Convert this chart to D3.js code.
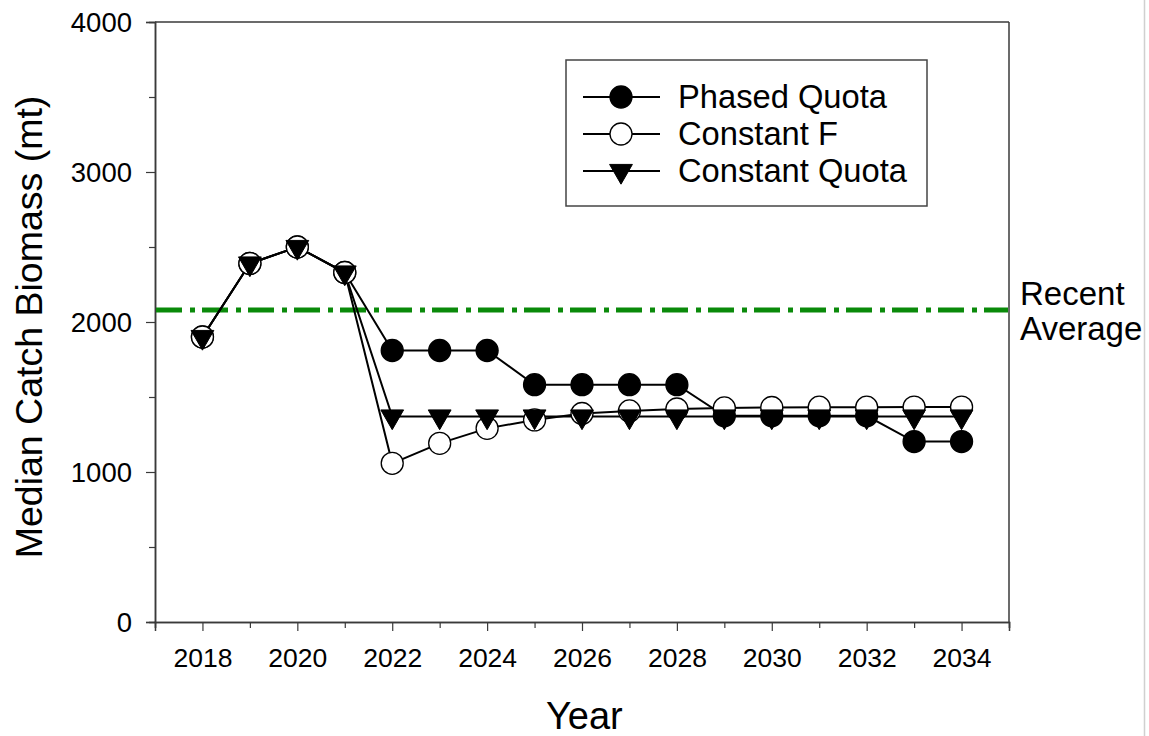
<!DOCTYPE html>
<html>
<head>
<meta charset="utf-8">
<script src="https://cdn.jsdelivr.net/npm/d3@7"></script>
<style>
  html, body { margin: 0; padding: 0; background: #fff; }
  svg { display: block; font-family: "Liberation Sans", Arial, sans-serif; }
</style>
</head>
<body>
<svg id="chart" width="1149" height="736"></svg>
<script>
// Projection years and median catch biomass (mt) for each harvest scenario
const years = [2018, 2019, 2020, 2021, 2022, 2023, 2024, 2025, 2026, 2027, 2028, 2029, 2030, 2031, 2032, 2033, 2034];
const phasedQuota   = [1900, 2390, 2500, 2330, 1810, 1810, 1810, 1582, 1582, 1582, 1582, 1375, 1375, 1375, 1375, 1203, 1203];
const constantF     = [1900, 2390, 2500, 2330, 1058, 1191, 1291, 1347, 1390, 1407, 1420, 1427, 1430, 1432, 1432, 1433, 1433];
const constantQuota = [1900, 2390, 2500, 2330, 1370, 1370, 1370, 1370, 1370, 1370, 1370, 1370, 1370, 1370, 1370, 1370, 1370];
const recentAverage = 2080;

const seriesNames = ["Phased Quota", "Constant F", "Constant Quota"];
const yTickValues = [0, 1000, 2000, 3000, 4000];
const xTickValues = [2018, 2020, 2022, 2024, 2026, 2028, 2030, 2032, 2034];

const svg = d3.select("#chart");
const plotLeft = 155, plotRight = 1009, plotTop = 22, plotBottom = 622;

const x = d3.scaleLinear().domain([2017, 2035]).range([plotLeft, plotRight]);
const y = d3.scaleLinear().domain([0, 4000]).range([plotBottom, plotTop]);

const axisColor = "#3a3a3a";

// frame: top and right edges
svg.append("line").attr("x1", plotLeft).attr("x2", plotRight).attr("y1", plotTop).attr("y2", plotTop)
  .attr("stroke", axisColor).attr("stroke-width", 1.5);
svg.append("line").attr("x1", plotRight).attr("x2", plotRight).attr("y1", plotTop).attr("y2", plotBottom)
  .attr("stroke", axisColor).attr("stroke-width", 1.5);

// y axis: major ticks with labels, minor ticks at half steps
const yAxis = svg.append("g").attr("transform", `translate(${plotLeft},0)`)
  .call(d3.axisLeft(y).tickValues(yTickValues).tickSize(9).tickPadding(14).tickFormat(d3.format("d")));
const yMinor = svg.append("g").attr("transform", `translate(${plotLeft},0)`)
  .call(d3.axisLeft(y).tickValues(d3.range(500, 4000, 1000)).tickSize(6).tickFormat(""));

// x axis: labelled even years, minor ticks every other year
const xAxis = svg.append("g").attr("transform", `translate(0,${plotBottom})`)
  .call(d3.axisBottom(x).tickValues(xTickValues).tickSize(9).tickPadding(17).tickFormat(d3.format("d")));
const xMinor = svg.append("g").attr("transform", `translate(0,${plotBottom})`)
  .call(d3.axisBottom(x).tickValues(d3.range(2017, 2036, 2)).tickSize(6).tickFormat(""));

[yAxis, yMinor, xAxis, xMinor].forEach(g => {
  g.select(".domain").attr("stroke", axisColor).attr("stroke-width", 1.5);
  g.selectAll(".tick line").attr("stroke", axisColor).attr("stroke-width", 1.2);
  g.selectAll(".tick text").attr("fill", "#000").attr("font-size", 26.5)
    .attr("font-family", "'Liberation Sans', Arial, sans-serif");
});
yAxis.selectAll(".tick text").attr("font-size", 27.5).attr("dy", "0.36em");

// axis titles
svg.append("text").attr("x", x(2026.05)).attr("y", 729).attr("text-anchor", "middle")
  .attr("font-size", 38).attr("fill", "#000").text("Year");
svg.append("text").attr("transform", "translate(42,327) rotate(-90)")
  .attr("text-anchor", "middle").attr("font-size", 37.5).attr("fill", "#000")
  .text("Median Catch Biomass (mt)");

// recent average reference line
svg.append("line").attr("x1", plotLeft + 1).attr("x2", plotRight - 1)
  .attr("y1", y(recentAverage)).attr("y2", y(recentAverage))
  .attr("stroke", "#0a8a0a").attr("stroke-width", 5)
  .attr("stroke-dasharray", "26 8 5 7");
svg.append("text").attr("x", 1021).attr("font-size", 33).attr("fill", "#000")
  .selectAll("tspan").data(["Recent", "Average"]).join("tspan")
  .attr("x", 1020).attr("y", (d, i) => 305 + i * 35).text(d => d);

// series lines and markers
const line = d3.line().x((d, i) => x(years[i])).y(d => y(d));
const series = [
  { name: seriesNames[0], values: phasedQuota, shape: "circle", fill: "#000" },
  { name: seriesNames[1], values: constantF, shape: "circle", fill: "#fff" },
  { name: seriesNames[2], values: constantQuota, shape: "triangle", fill: "#000" }
];

const tri = d3.symbol().type(d3.symbolTriangle).size(225);

series.forEach(s => {
  svg.append("path").datum(s.values).attr("d", line)
    .attr("fill", "none").attr("stroke", "#000").attr("stroke-width", 2);
});

function drawMarker(g, s, cx, cy) {
  if (s.shape === "circle") {
    g.append("circle").attr("cx", cx).attr("cy", cy).attr("r", 11)
      .attr("fill", s.fill).attr("stroke", "#000").attr("stroke-width", 1.3);
  } else {
    g.append("path").attr("d", tri())
      .attr("transform", `translate(${cx},${cy}) rotate(180)`)
      .attr("fill", s.fill).attr("stroke", "#000").attr("stroke-width", 1);
  }
}

series.forEach(s => {
  const g = svg.append("g");
  s.values.forEach((v, i) => drawMarker(g, s, x(years[i]), y(v)));
});

// legend
const legend = svg.append("g");
legend.append("rect").attr("x", 566).attr("y", 60).attr("width", 361).attr("height", 146)
  .attr("fill", "#fff").attr("stroke", "#444").attr("stroke-width", 1.5);
series.forEach((s, i) => {
  const cy = 97 + i * 37;
  legend.append("line").attr("x1", 583).attr("x2", 660).attr("y1", cy).attr("y2", cy)
    .attr("stroke", "#000").attr("stroke-width", 2);
  drawMarker(legend, s, 621, cy);
  legend.append("text").attr("x", 678).attr("y", cy + 11).attr("font-size", 32.7)
    .attr("fill", "#000").text(s.name);
});

// thin page border on the right
svg.append("line").attr("x1", 1144.5).attr("x2", 1144.5).attr("y1", 0).attr("y2", 736)
  .attr("stroke", "#d0d0d0").attr("stroke-width", 1.5);
</script>
</body>
</html>
